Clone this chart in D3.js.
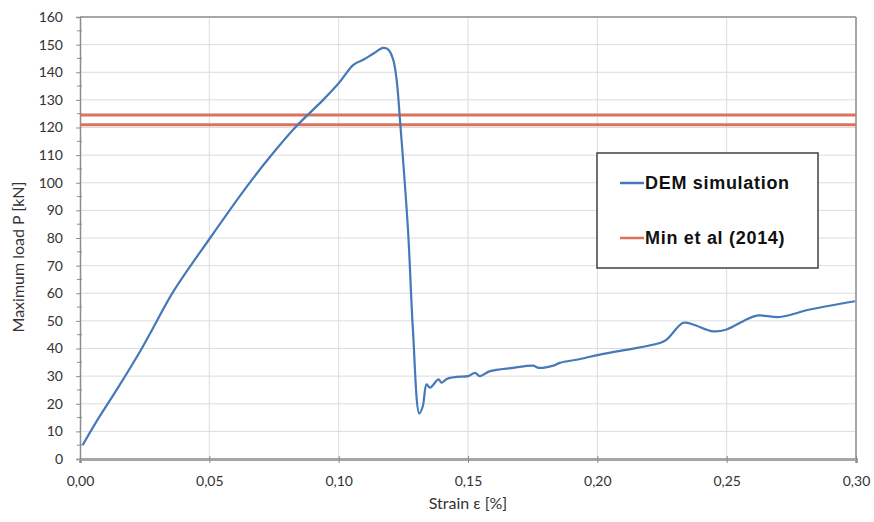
<!DOCTYPE html>
<html>
<head>
<meta charset="utf-8">
<script src="https://cdn.jsdelivr.net/npm/d3@7"></script>
<style>
  body { margin: 0; background: #fff; }
  text { font-family: Lato, "Open Sans", sans-serif; }
</style>
</head>
<body>
<div id="chart"></div>
<script>
// DEM simulation curve (strain %, load kN)
const strain = [0.001, 0.006, 0.015, 0.024, 0.028, 0.036, 0.0503, 0.0644, 0.0734, 0.0838, 0.094, 0.100,
  0.1057, 0.1095, 0.1135, 0.1172, 0.1192, 0.1211, 0.1224, 0.1237, 0.1268, 0.1287, 0.1312, 0.1325, 0.134,
  0.1353, 0.1386, 0.1398, 0.1418, 0.1456, 0.1501, 0.1527, 0.1546, 0.1585, 0.1675, 0.1752, 0.1772,
  0.183, 0.1855, 0.1933, 0.201, 0.2242, 0.2268, 0.2332, 0.237, 0.2448, 0.25, 0.2564, 0.2616,
  0.2706, 0.2822, 0.2996];
const load = [5, 13, 26.3, 40.2, 47, 60.5, 80, 98.5, 109.3, 120.6, 130, 136,
  142.7, 144.5, 146.8, 148.8, 148.2, 144.5, 137.3, 122.8, 83, 47, 16.5, 19, 27,
  25.8, 28.8, 27.6, 29, 29.7, 30, 31.2, 30, 31.8, 33, 33.8, 33,
  33.8, 34.8, 36.2, 37.8, 42, 43.2, 49.3, 48.7, 46.2, 46.9, 49.9, 51.9,
  51.4, 54.1, 57.1];
// Min et al (2014) reference levels
const minLevels = [124.5, 121];

const xTicks = [0, 0.05, 0.10, 0.15, 0.20, 0.25, 0.30];
const yTicks = d3.range(0, 161, 10);
const yMinor = d3.range(5, 160, 10);
const legendNames = ["DEM simulation", "Min et al (2014)"];
const colors = ["#4579b8", "#d9735c"];

const width = 874, height = 522;
const margin = { top: 17, right: 18, bottom: 63, left: 80 };

const svg = d3.select("#chart").append("svg")
  .attr("width", width)
  .attr("height", height);

const x = d3.scaleLinear().domain([0, 0.30]).range([margin.left, width - margin.right]);
const y = d3.scaleLinear().domain([0, 160]).range([height - margin.bottom, margin.top]);

const fmt = d => d3.format(".2f")(d).replace(".", ",");

// grid
svg.append("g").selectAll("line")
  .data(yTicks.filter(d => d > 0 && d < 160))
  .enter().append("line")
  .attr("x1", x(0)).attr("x2", x(0.30))
  .attr("y1", d => y(d)).attr("y2", d => y(d))
  .attr("stroke", "#dcdcdc").attr("stroke-width", 1);

svg.append("g").selectAll("line")
  .data(xTicks.filter(d => d > 0 && d < 0.30))
  .enter().append("line")
  .attr("x1", d => x(d)).attr("x2", d => x(d))
  .attr("y1", y(0)).attr("y2", y(160))
  .attr("stroke", "#dcdcdc").attr("stroke-width", 1);

// plot border top / right
svg.append("line")
  .attr("x1", x(0)).attr("x2", x(0.30)).attr("y1", y(160)).attr("y2", y(160))
  .attr("stroke", "#a6a6a6").attr("stroke-width", 2);
svg.append("line")
  .attr("x1", x(0.30)).attr("x2", x(0.30)).attr("y1", y(0)).attr("y2", y(160))
  .attr("stroke", "#a6a6a6").attr("stroke-width", 2);

// y axis
const yAxis = svg.append("g")
  .attr("transform", `translate(${x(0)},0)`)
  .call(d3.axisLeft(y).tickValues(yTicks).tickSize(4).tickPadding(13));
yAxis.select(".domain").attr("stroke", "#8c8c8c").attr("stroke-width", 1.5);
yAxis.selectAll(".tick line").attr("stroke", "#8c8c8c");
yAxis.selectAll("text").attr("font-size", 14).attr("fill", "#333");
svg.append("g").selectAll("line")
  .data(yMinor).enter().append("line")
  .attr("x1", x(0) - 3).attr("x2", x(0) + 2)
  .attr("y1", d => y(d)).attr("y2", d => y(d))
  .attr("stroke", "#8c8c8c");

// x axis
const xAxis = svg.append("g")
  .attr("transform", `translate(0,${y(0)})`)
  .call(d3.axisBottom(x).tickValues(xTicks).tickFormat(fmt).tickSize(4).tickPadding(13));
xAxis.select(".domain").attr("stroke", "#a6a6a6").attr("stroke-width", 3);
xAxis.selectAll(".tick line").attr("stroke", "#8c8c8c").attr("y1", -3);
xAxis.selectAll("text").attr("font-size", 14).attr("fill", "#333");

// axis titles
svg.append("text")
  .attr("x", (x(0) + x(0.30)) / 2).attr("y", 509)
  .attr("text-anchor", "middle").attr("font-size", 16).attr("fill", "#333")
  .text("Strain ε [%]");
svg.append("text")
  .attr("transform", `translate(24,257) rotate(-90)`)
  .attr("text-anchor", "middle").attr("font-size", 16).attr("fill", "#333")
  .text("Maximum load P [kN]");

// Min et al lines
svg.append("g").selectAll("line")
  .data(minLevels).enter().append("line")
  .attr("x1", x(0)).attr("x2", x(0.30))
  .attr("y1", d => y(d)).attr("y2", d => y(d))
  .attr("stroke", colors[1]).attr("stroke-width", 3);

// DEM curve
const pts = strain.map((s, i) => [s, load[i]]);
svg.append("path")
  .datum(pts)
  .attr("fill", "none")
  .attr("stroke", colors[0])
  .attr("stroke-width", 2.2)
  .attr("stroke-linejoin", "round")
  .attr("d", d3.line().x(d => x(d[0])).y(d => y(d[1])).curve(d3.curveCatmullRom.alpha(0.5)));

// legend
const lg = svg.append("g").attr("transform", "translate(597,153)");
lg.append("rect")
  .attr("width", 221).attr("height", 115)
  .attr("fill", "#fff").attr("stroke", "#404040").attr("stroke-width", 1.5);
legendNames.forEach((name, i) => {
  const ly = 30 + i * 55;
  lg.append("line")
    .attr("x1", 23).attr("x2", 47).attr("y1", ly).attr("y2", ly)
    .attr("stroke", colors[i]).attr("stroke-width", 2.5);
  lg.append("text")
    .attr("x", 48).attr("y", ly).attr("dy", "0.35em")
    .style("font-family", "'Liberation Sans', Arial, sans-serif")
    .style("letter-spacing", "0.7px")
    .attr("font-size", 18).attr("font-weight", "bold").attr("fill", "#111")
    .text(name);
});
</script>
</body>
</html>
